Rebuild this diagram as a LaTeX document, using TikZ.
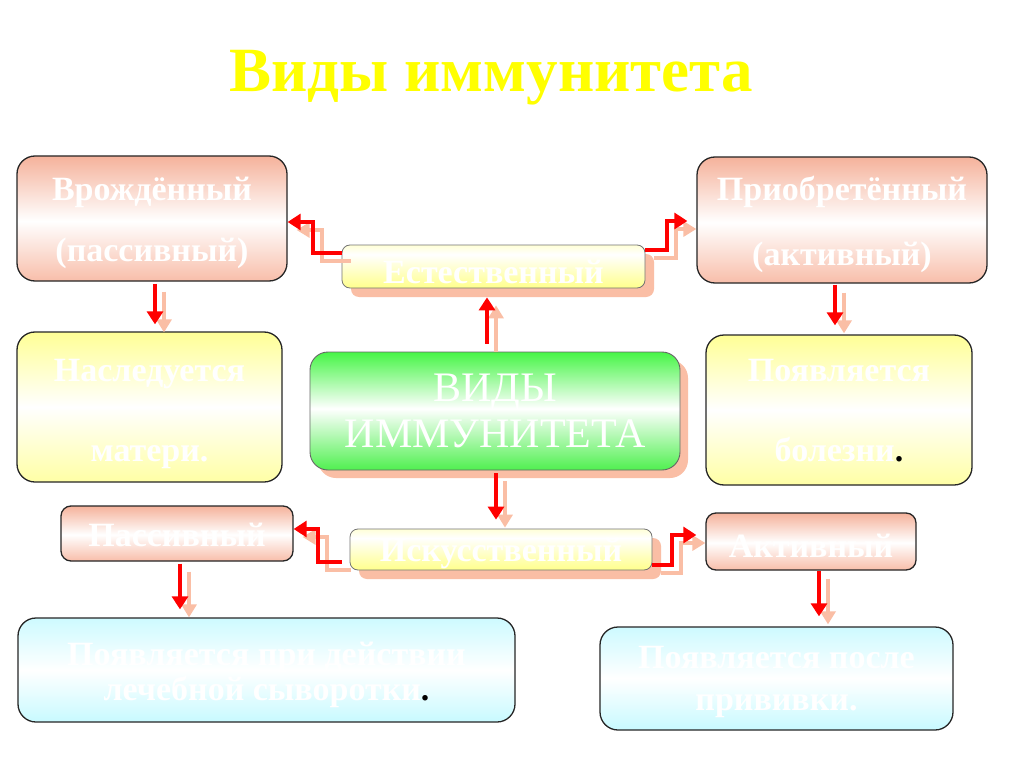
\documentclass[tikz,border=0pt]{standalone}
\usepackage{fontspec}
\setmainfont{Liberation Serif}
\usetikzlibrary{arrows.meta,shadows,calc}
\definecolor{salT}{RGB}{245,178,155}
\definecolor{salB}{RGB}{248,190,170}
\definecolor{yelT}{RGB}{255,255,150}
\definecolor{yelB}{RGB}{255,255,165}
\definecolor{yelS}{RGB}{255,255,140}
\definecolor{yelW}{RGB}{255,255,215}
\definecolor{grT}{RGB}{70,245,70}
\definecolor{grB}{RGB}{80,240,80}
\definecolor{cyT}{RGB}{205,250,255}
\definecolor{cyB}{RGB}{200,250,255}
\definecolor{shadowc}{RGB}{250,190,165}
\definecolor{titleyel}{RGB}{255,255,0}
\pgfdeclareverticalshading{salsh}{100bp}{color(0bp)=(salB); color(25bp)=(salB); color(49bp)=(white); color(75bp)=(salT); color(100bp)=(salT)}
\pgfdeclareverticalshading{yelsh}{100bp}{color(0bp)=(yelB); color(25bp)=(yelB); color(50bp)=(white); color(75bp)=(yelT); color(100bp)=(yelT)}
\pgfdeclareverticalshading{yelbar}{100bp}{color(0bp)=(yelS); color(25bp)=(yelS); color(64bp)=(white); color(75bp)=(yelW); color(100bp)=(yelW)}
\pgfdeclareverticalshading{grsh}{100bp}{color(0bp)=(grB); color(25bp)=(grB); color(51bp)=(white); color(75bp)=(grT); color(100bp)=(grT)}
\pgfdeclareverticalshading{cysh}{100bp}{color(0bp)=(cyB); color(25bp)=(cyB); color(50bp)=(white); color(75bp)=(cyT); color(100bp)=(cyT)}
\newcommand\twinarrow[1]{\draw[shadarr,transform canvas={xshift=9pt,yshift=-8pt}] #1; \draw[redarr] #1;}
\newcommand\lowr[2]{\raisebox{-#1}[\height][\depth]{#2}}
\tikzset{
  box/.style={draw=black!85, line width=1.3pt, rounded corners=18pt, text=white, align=center, inner sep=0pt,
    font=\fontsize{34}{36}\selectfont\bfseries},
  salbox/.style={box, shading=salsh},
  yelbox/.style={box, shading=yelsh},
  cybox/.style={box, shading=cysh},
  barbox/.style={box, draw=black!55, line width=0.8pt, rounded corners=8pt, shading=yelbar,
    drop shadow={shadow xshift=9pt, shadow yshift=-9pt, fill=shadowc, opacity=1, draw=none}},
  grbox/.style={box, draw=black!60, line width=0.9pt, rounded corners=18pt, shading=grsh,
    font=\fontsize{42}{46}\selectfont,
    drop shadow={shadow xshift=8pt, shadow yshift=-8pt, fill=shadowc, opacity=1, draw=none}},
  redarr/.style={draw=red, line width=4.5pt, -{Triangle[length=13pt,width=16pt]}},
  shadarr/.style={draw=shadowc, line width=4pt, -{Triangle[length=13pt,width=15pt]}},
  title/.style={text=titleyel, font=\fontsize{63}{66}\selectfont\bfseries, inner sep=0pt}
}
\begin{document}
\begin{tikzpicture}[x=1pt,y=-1pt]
\useasboundingbox (0,0) rectangle (1024,767);
\fill[white] (0,0) rectangle (1024,767);
\node[title, anchor=base] (title) at (491,92) {Виды иммунитета};
% boxes
\node[salbox, minimum width=270pt, minimum height=125pt, font=\fontsize{34}{65}\selectfont\bfseries] (vr) at (152,218.5) {\lowr{6pt}{Врождённый}\\\lowr{2pt}{(пассивный)}};
\node[salbox, minimum width=290pt, minimum height=126pt, font=\fontsize{34}{65}\selectfont\bfseries] (pr) at (842,220) {\lowr{4pt}{Приобретённый}\\\lowr{4pt}{(активный)}};
\node[yelbox, minimum width=265pt, minimum height=150pt, font=\fontsize{34}{41}\selectfont\bfseries] (nas) at (149.5,407) {\lowr{8pt}{Наследуется}\\\mbox{}\\\lowr{6pt}{матери.}};
\node[yelbox, minimum width=266pt, minimum height=150pt, font=\fontsize{34}{41}\selectfont\bfseries] (poya) at (839,410) {\lowr{2pt}{Появляется}\\\mbox{}\\болезни\textcolor{black}{.}};
\node[barbox, minimum width=303pt, minimum height=43pt] (est) at (493.5,266.5) {\lowr{5pt}{Естественный}};
\node[grbox, minimum width=370pt, minimum height=118pt] (green) at (495,411) {ВИДЫ\\ИММУНИТЕТА};
\node[barbox, minimum width=302pt, minimum height=41pt] (isk) at (501,549.5) {\lowr{4pt}{Искусственный}};
\node[salbox, rounded corners=10pt, minimum width=232pt, minimum height=55pt] (pas) at (177,533.5) {\lowr{1pt}{Пассивный}};
\node[salbox, rounded corners=10pt, minimum width=210pt, minimum height=57pt] (akt) at (811,541.5) {\lowr{4pt}{Активный}};
\node[cybox, minimum width=497pt, minimum height=104pt, font=\fontsize{34}{36}\selectfont\bfseries] (cyl) at (266.5,670) {\lowr{5pt}{Появляется при действии}\\\lowr{4pt}{лечебной сыворотки\textcolor{black}{.}}};
\node[cybox, minimum width=353pt, minimum height=103pt, font=\fontsize{34}{43}\selectfont\bfseries] (cyr) at (776.5,678.5) {\lowr{4pt}{Появляется после}\\\lowr{3pt}{прививки.}};
% connectors
\twinarrow{(est.west |- 0,253) -- (313,253) |- (vr.east |- 0,222)}
\twinarrow{(est.east |- 0,250) -- (667,250) |- ($(pr.west |- 0,221)+(-9,0)$)}
\twinarrow{($(green.north -| 487,0)+(0,-8)$) -- ($(est.south -| 487,0)+(0,9)$)}
\twinarrow{($(green.south -| 496,0)+(0,3)$) -- ($(isk.north -| 496,0)+(0,-9)$)}
\twinarrow{($(vr.south -| 155,0)+(0,2)$) -- ($(nas.north -| 155,0)+(0,-7)$)}
\twinarrow{($(pr.south -| 835,0)+(0,1)$) -- ($(poya.north -| 835,0)+(0,-9)$)}
\twinarrow{($(isk.west |- 0,562)+(-8,0)$) -- (318,562) |- (pas.east |- 0,529)}
\twinarrow{(isk.east |- 0,565) -- (672,565) |- ($(akt.west |- 0,535)+(-9,0)$)}
\twinarrow{($(pas.south -| 180,0)+(0,2)$) -- ($(cyl.north -| 180,0)+(0,-8)$)}
\twinarrow{(akt.south -| 819,0) -- ($(cyr.north -| 819,0)+(0,-10)$)}
\end{tikzpicture}
\end{document}
